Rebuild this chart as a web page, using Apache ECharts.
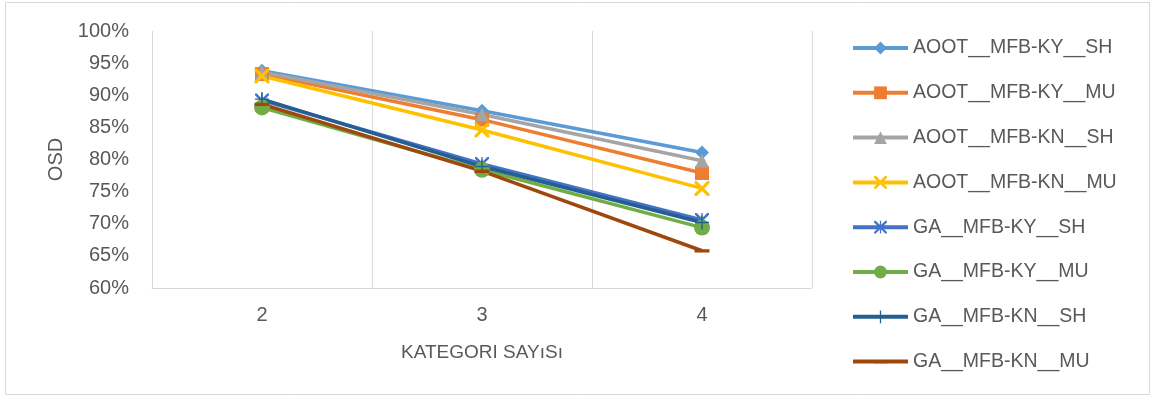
<!DOCTYPE html>
<html>
<head>
<meta charset="utf-8">
<script src="https://cdn.jsdelivr.net/npm/echarts@6/dist/echarts.min.js"></script>
<style>
  html, body { margin: 0; padding: 0; background: #ffffff; }
  #chart { width: 1155px; height: 398px; }
</style>
</head>
<body>
<div id="chart"></div>
<script>
// Category counts on the x axis
const categories = ['2', '3', '4'];

// OSD values (%) per method
const aootKySh = [93.8, 87.6, 81.1];
const aootKyMu = [93.3, 86.2, 77.9];
const aootKnSh = [93.6, 87.0, 79.8];
const aootKnMu = [93.0, 84.6, 75.5];
const gaKySh   = [89.2, 79.3, 70.6];
const gaKyMu   = [88.1, 78.4, 69.4];
const gaKnSh   = [89.4, 78.9, 70.2];
const gaKnMu   = [88.6, 78.2, 65.8];

const seriesNames = [
  'AOOT__MFB-KY__SH', 'AOOT__MFB-KY__MU', 'AOOT__MFB-KN__SH', 'AOOT__MFB-KN__MU',
  'GA__MFB-KY__SH', 'GA__MFB-KY__MU', 'GA__MFB-KN__SH', 'GA__MFB-KN__MU'
];
const seriesData = [aootKySh, aootKyMu, aootKnSh, aootKnMu, gaKySh, gaKyMu, gaKnSh, gaKnMu];

// y axis range and tick step (%)
const yMin = 60, yMax = 100, yStep = 5;

const colors = ['#5B9BD5', '#ED7D31', '#A5A5A5', '#FFC000', '#4472C4', '#70AD47', '#255E91', '#9E480E'];

const crossPath = 'path://M0,0 L3,0 L10,7 L17,0 L20,0 L20,3 L13,10 L20,17 L20,20 L17,20 L10,13 L3,20 L0,20 L0,17 L7,10 L0,3 Z';
const starPath = 'path://M0,0 L2.5,0 L10,7.5 L17.5,0 L20,0 L20,2.5 L12.5,10 L20,17.5 L20,20 L17.5,20 L10,12.5 L2.5,20 L0,20 L0,17.5 L7.5,10 L0,2.5 Z M9,0 L11,0 L11,20 L9,20 Z';
const plusPath = 'path://M9,0 L11,0 L11,9 L20,9 L20,11 L11,11 L11,20 L9,20 L9,11 L0,11 L0,9 L9,9 Z';
// short horizontal bar centred in a square box
const dashPath = 'path://M0,0 L0.01,0 Z M0,8 L20,8 L20,12.5 L0,12.5 Z M20,20 L19.99,20 Z';

const symbols = ['diamond', 'rect', 'triangle', crossPath, starPath, 'circle', plusPath, dashPath];
const symbolSizes = [14, 14, 14, 15, 14, 16, 14, 15];

const FONT = 'Liberation Sans';
const TEXT = '#595959';

const chart = echarts.init(document.getElementById('chart'), null, { renderer: 'canvas' });

chart.setOption({
  animation: false,
  backgroundColor: '#ffffff',
  textStyle: { fontFamily: FONT },
  graphic: [{
    type: 'rect',
    shape: { x: 5.5, y: 2.5, width: 1144, height: 392 },
    style: { fill: 'none', stroke: '#D9D9D9', lineWidth: 1 },
    silent: true
  }],
  grid: { left: 152, top: 31, right: 343, bottom: 110 },
  legend: {
    orient: 'vertical',
    left: 846,
    top: 33,
    itemWidth: 55,
    itemHeight: 16,
    itemGap: 24.8,
    lineStyle: { width: 4 },
    textStyle: { color: TEXT, fontSize: 19.5, fontFamily: FONT },
    data: seriesNames
  },
  xAxis: {
    type: 'category',
    data: categories,
    boundaryGap: true,
    name: 'KATEGORI SAYıSı',
    nameLocation: 'middle',
    nameGap: 55,
    nameTextStyle: { color: TEXT, fontSize: 19, fontFamily: FONT },
    axisLine: { show: true, lineStyle: { color: '#D9D9D9', width: 1 } },
    axisTick: { show: false },
    axisLabel: { color: TEXT, fontSize: 20, margin: 17, fontFamily: FONT },
    splitLine: { show: true, lineStyle: { color: '#D9D9D9', width: 1 } }
  },
  yAxis: {
    type: 'value',
    min: yMin,
    max: yMax,
    interval: yStep,
    name: 'OSD',
    nameLocation: 'middle',
    nameGap: 86,
    nameTextStyle: { color: TEXT, fontSize: 20, fontFamily: FONT },
    axisLine: { show: false },
    axisTick: { show: false },
    splitLine: { show: false },
    axisLabel: {
      color: TEXT, fontSize: 20, margin: 23, fontFamily: FONT,
      formatter: v => v + '%'
    }
  },
  series: seriesNames.map((name, i) => ({
    name: name,
    type: 'line',
    data: seriesData[i],
    color: colors[i],
    symbol: symbols[i],
    symbolSize: symbolSizes[i],
    symbolKeepAspect: true,
    showAllSymbol: true,
    lineStyle: { width: 3.5, color: colors[i] },
    itemStyle: { color: colors[i], borderWidth: 0 },
    emphasis: { disabled: true }
  }))
});
</script>
</body>
</html>
